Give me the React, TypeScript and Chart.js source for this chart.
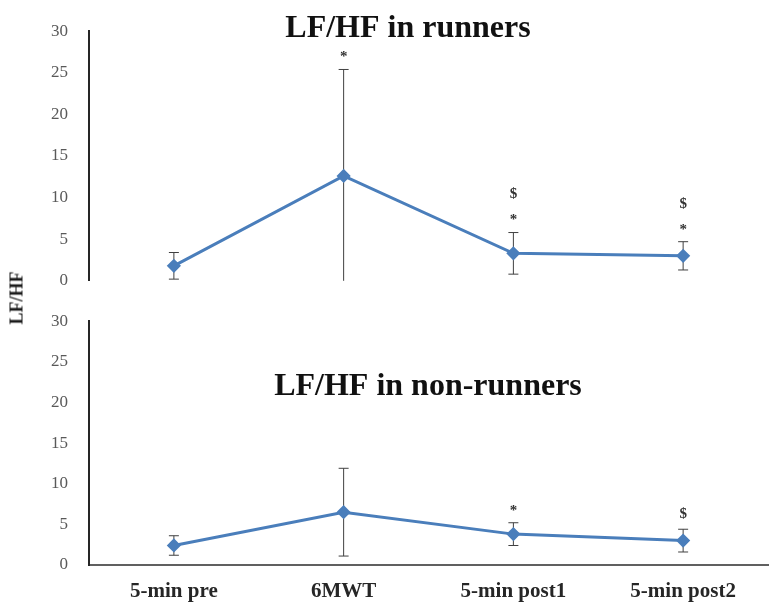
import React, { useEffect, useRef } from 'react';
import { Chart, registerables } from 'chart.js';

Chart.register(...registerables);

const categories = ['5-min pre', '6MWT', '5-min post1', '5-min post2'];
const yTicks = [0, 5, 10, 15, 20, 25, 30];

const runnersMean = [1.8, 12.6, 3.3, 3.0];
const runnersSD = [1.6, 12.8, 2.5, 1.7];
const runnersMarks = [[], ['*'], ['*', '$'], ['*', '$']];

const nonRunnersMean = [2.4, 6.5, 3.8, 3.0];
const nonRunnersSD = [1.2, 5.4, 1.4, 1.4];
const nonRunnersMarks = [[], [], ['*'], ['$']];

const SERIF = '"Liberation Serif", "DejaVu Serif", "Times New Roman", serif';
const LINE = '#4a7ebb';

function makePlugin(mean: number[], sd: number[], marks: string[][], title: string, titleX: number, titleY: number) {
  return {
    id: 'extras',
    beforeDatasetsDraw(chart: any) {
      const ctx = chart.ctx;
      const xs = chart.scales.x;
      const ys = chart.scales.y;
      ctx.save();
      ctx.strokeStyle = '#404040';
      ctx.lineWidth = 1;
      mean.forEach((m, i) => {
        const x = xs.getPixelForValue(i);
        const hi = m + sd[i];
        const lo = m - sd[i];
        const yHi = ys.getPixelForValue(hi);
        const yLo = ys.getPixelForValue(Math.max(0, lo));
        ctx.beginPath();
        ctx.moveTo(x, yHi);
        ctx.lineTo(x, yLo);
        ctx.moveTo(x - 5, yHi);
        ctx.lineTo(x + 5, yHi);
        if (lo > 0) {
          ctx.moveTo(x - 5, yLo);
          ctx.lineTo(x + 5, yLo);
        }
        ctx.stroke();
      });
      ctx.restore();
    },
    afterDraw(chart: any) {
      const ctx = chart.ctx;
      const xs = chart.scales.x;
      const ys = chart.scales.y;
      ctx.save();
      ctx.fillStyle = '#333333';
      ctx.font = `bold 15px ${SERIF}`;
      ctx.textAlign = 'center';
      ctx.textBaseline = 'middle';
      mean.forEach((m, i) => {
        const x = xs.getPixelForValue(i);
        const yHi = ys.getPixelForValue(m + sd[i]);
        marks[i].forEach((t, k) => {
          ctx.fillText(t, x, yHi - 15 - k * 23 + (t === '*' ? 3 : 0));
        });
      });
      ctx.fillStyle = '#111111';
      ctx.font = `bold 32px ${SERIF}`;
      ctx.textBaseline = 'alphabetic';
      ctx.fillText(title, titleX, titleY);
      ctx.restore();
    },
  };
}

function makeConfig(mean: number[], showX: boolean, padTop: number, padBottom: number, plugin: any): any {
  return {
    type: 'line',
    data: {
      labels: categories,
      datasets: [
        {
          data: mean,
          borderColor: LINE,
          borderWidth: 3,
          pointStyle: 'rectRot',
          pointRadius: 5,
          pointBackgroundColor: LINE,
          pointBorderColor: LINE,
          tension: 0,
        },
      ],
    },
    options: {
      animation: false,
      responsive: false,
      maintainAspectRatio: false,
      layout: { padding: { top: padTop, bottom: padBottom, left: 0, right: 0 } },
      plugins: { legend: { display: false }, tooltip: { enabled: false }, title: { display: false } },
      scales: {
        x: {
          type: 'category',
          offset: true,
          display: showX,
          grid: { display: false, drawTicks: false },
          border: { display: true, color: '#606060', width: 2 },
          ticks: { padding: 14, color: '#262626', font: { family: SERIF, size: 21, weight: 'bold' } },
          afterFit: (s: any) => {
            if (showX) s.height = 39;
          },
        },
        y: {
          min: 0,
          max: 30,
          grid: { display: false, drawTicks: false },
          border: { display: true, color: '#262626', width: 2 },
          ticks: { padding: 21, color: '#595959', font: { family: SERIF, size: 17 } },
          afterBuildTicks: (s: any) => {
            s.ticks = yTicks.map((v) => ({ value: v }));
          },
          afterFit: (s: any) => {
            s.width = 89;
          },
        },
      },
    },
    plugins: [plugin],
  };
}

export default function App() {
  const topRef = useRef<HTMLCanvasElement>(null);
  const botRef = useRef<HTMLCanvasElement>(null);

  useEffect(() => {
    const c1 = new Chart(
      topRef.current as HTMLCanvasElement,
      makeConfig(runnersMean, false, 31, 8, makePlugin(runnersMean, runnersSD, runnersMarks, 'LF/HF in runners', 408, 37))
    );
    const c2 = new Chart(
      botRef.current as HTMLCanvasElement,
      makeConfig(nonRunnersMean, true, 31, 0, makePlugin(nonRunnersMean, nonRunnersSD, nonRunnersMarks, 'LF/HF in non-runners', 428, 105))
    );
    return () => {
      c1.destroy();
      c2.destroy();
    };
  }, []);

  return (
    <div style={{ position: 'absolute', left: 0, top: 0, width: 776, height: 604, background: '#fff' }}>
      <canvas ref={topRef} width={776} height={312} style={{ position: 'absolute', left: 0, top: 0, width: 776, height: 312 }} />
      <canvas ref={botRef} width={776} height={314} style={{ position: 'absolute', left: 0, top: 290, width: 776, height: 314 }} />
      <div
        style={{
          position: 'absolute',
          left: 17,
          top: 298,
          transform: 'translate(-50%, -50%) rotate(-90deg)',
          fontFamily: SERIF,
          fontWeight: 'bold',
          fontSize: 18,
          color: '#1a1a1a',
          whiteSpace: 'nowrap',
        }}
      >
        LF/HF
      </div>
    </div>
  );
}
